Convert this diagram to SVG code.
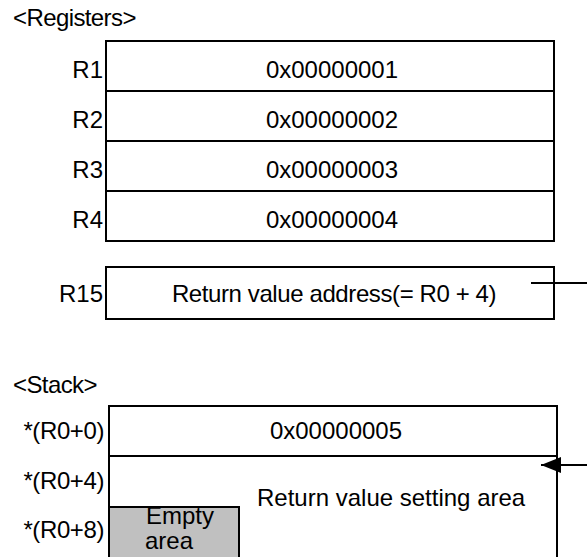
<svg xmlns="http://www.w3.org/2000/svg" width="587" height="557" viewBox="0 0 587 557">
<style>
text{font-family:"Liberation Sans",Arial,sans-serif;font-size:24px;fill:#000}
.c{text-anchor:middle}
.r{text-anchor:end}
.box{fill:#fff;stroke:#000;stroke-width:2}
.ln{stroke:#000;stroke-width:2;fill:none}
</style>
<defs>
<marker id="ah" markerWidth="20" markerHeight="16" refX="20" refY="8" orient="auto" markerUnits="userSpaceOnUse" viewBox="0 0 20 16">
<path d="M0,0 L20,8 L0,16 Z" fill="#000"/>
</marker>
</defs>
<text x="13" y="26" letter-spacing="-0.6">&lt;Registers&gt;</text>
<g id="registers">
<rect class="box" x="106" y="41" width="448" height="200"/>
<line class="ln" x1="106" y1="91" x2="554" y2="91"/>
<line class="ln" x1="106" y1="141" x2="554" y2="141"/>
<line class="ln" x1="106" y1="191" x2="554" y2="191"/>
</g>
<g id="r1"><text class="r" x="103" y="78">R1</text><text class="c" x="332" y="78">0x00000001</text></g>
<g id="r2"><text class="r" x="103" y="128">R2</text><text class="c" x="332" y="128">0x00000002</text></g>
<g id="r3"><text class="r" x="103" y="178">R3</text><text class="c" x="332" y="178">0x00000003</text></g>
<g id="r4"><text class="r" x="103" y="228">R4</text><text class="c" x="332" y="228">0x00000004</text></g>
<g id="r15">
<rect class="box" x="106" y="267" width="448" height="52"/>
<text class="r" x="103" y="302">R15</text>
<text class="c" x="334" y="302" letter-spacing="-0.4">Return value address(= R0 + 4)</text>
</g>
<text x="13" y="393" letter-spacing="-0.6">&lt;Stack&gt;</text>
<g id="stack">
<path class="ln" d="M109,557 V406 H557 V557"/>
<line class="ln" x1="109" y1="456" x2="557" y2="456"/>
<text class="r" x="104" y="439" letter-spacing="-0.4">*(R0+0)</text>
<text class="c" x="336" y="439">0x00000005</text>
<text class="r" x="104" y="489" letter-spacing="-0.4">*(R0+4)</text>
<text class="r" x="104" y="538" letter-spacing="-0.4">*(R0+8)</text>
<text x="257" y="506">Return value setting area</text>
</g>
<g id="empty">
<rect x="109" y="507" width="130" height="60" fill="#c0c0c0" stroke="#000" stroke-width="2"/>
<text x="146" y="524">Empty</text>
<text x="145" y="549">area</text>
</g>
<g id="connectors">
<line class="ln" x1="531" y1="283" x2="587" y2="283"/>
<line class="ln" x1="587" y1="465" x2="541" y2="465" marker-end="url(#ah)"/>
</g>
</svg>
